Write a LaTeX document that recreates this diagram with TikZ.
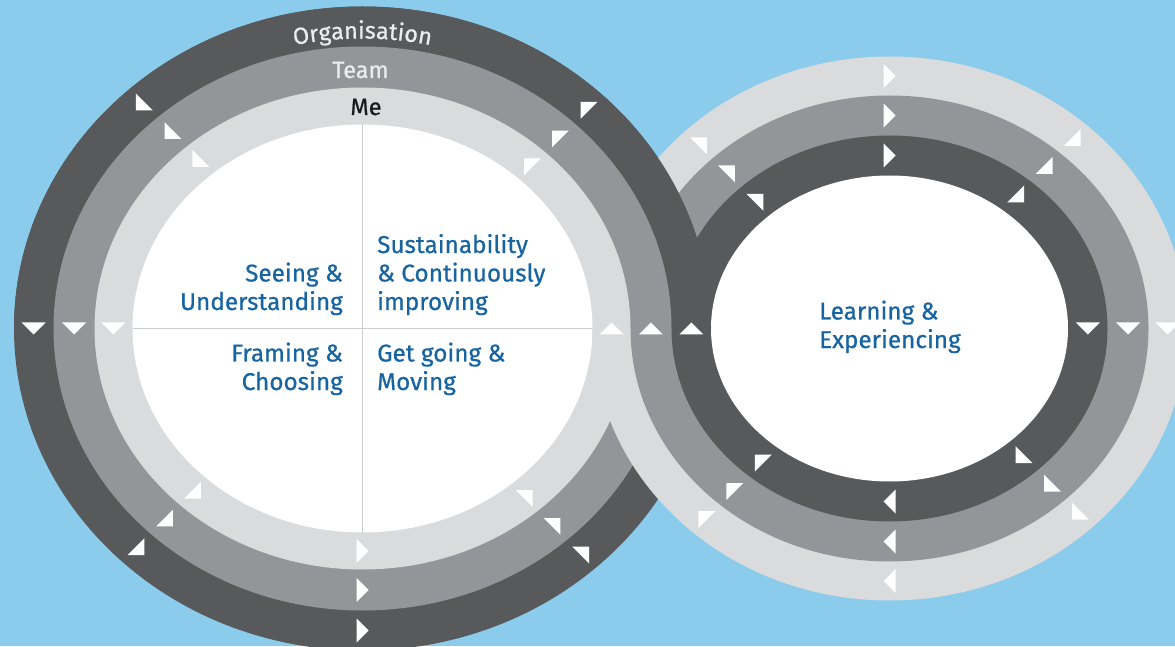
\documentclass[tikz,border=0pt]{standalone}
\usepackage{fontspec}
\setmainfont{Fira Sans}[FakeBold=0.6]
\usetikzlibrary{decorations.text}

\definecolor{sky}{RGB}{139,204,236}
\definecolor{ringdark}{RGB}{88,89,91}
\definecolor{ringmid}{RGB}{147,149,152}
\definecolor{ringlight}{RGB}{218,219,221}
\definecolor{ringtext}{RGB}{236,236,238}
\definecolor{phaseblue}{RGB}{22,100,162}
\definecolor{divider}{RGB}{205,206,208}

\tikzset{
  phase/.style={text=phaseblue, inner sep=0pt, font=\fontsize{24.3}{28.5}\selectfont},
  ringlabel/.style={font=\fontsize{23.5}{23.5}\selectfont, anchor=base},
  tri/.pic={\fill[white] (6,0) -- (-6,12) -- (-6,-12) -- cycle;}
}

% the left loop: organisation, team, me and the white middle
\newcommand\leftloop{%
  \fill[ringdark] (L) ellipse [x radius=348.5, y radius=322];
  \fill[ringmid] (L) ellipse [x radius=309, y radius=282];
  \fill[ringlight] (L) ellipse [x radius=268, y radius=241];
  \fill[white] (L) ellipse [x radius=230, y radius=204];
}

\begin{document}
\begin{tikzpicture}[x=1pt,y=1pt]

    \clip (0,0) rectangle (1175,646);
    \fill[sky] (0,0) rectangle (1175,646);

    \coordinate (L) at (362.5,317.5);
    \coordinate (R) at (889.5,317.5);

    \leftloop

    % right loop, rings the other way round
    \fill[ringlight] (R) ellipse [x radius=297, y radius=272];
    \fill[ringmid] (R) ellipse [x radius=259, y radius=233];
    \fill[ringdark] (R) ellipse [x radius=218, y radius=193];
    \fill[white] (R) ellipse [x radius=178.5, y radius=153];

    % upper crossing: left loop lies on top
    \begin{scope}
        \clip (0,317.5) rectangle (1175,646);
        \leftloop
    \end{scope}

    \draw[divider, line width=1.2] (L) ++(0,204) -- ++(0,-408);
    \draw[divider, line width=1.2] (L) ++(-230,0) -- ++(460,0);

    % arrows, left loop anticlockwise
    \foreach \a/\b in {328.75/302, 288.5/261.5, 249/222.5}
        \foreach \t in {0,45,135,180,225,270,315}
            \path (L) ++(\t:{\b/sqrt((\b/\a*cos(\t))^2+(sin(\t))^2)}) pic[rotate=\t+90] {tri};

    % arrows, right loop clockwise
    \foreach \a/\b in {278/252.5, 238.5/213, 198.25/173}
        \foreach \t in {0,45,90,135,225,270,315}
            \path (R) ++(\t:{\b/sqrt((\b/\a*cos(\t))^2+(sin(\t))^2)}) pic[rotate=\t-90] {tri};

    \path[decorate, decoration={text along path, text align=center, text color=ringtext,
        text={|\fontsize{23.5}{23.5}\selectfont|Organisation}}]
        (L) ++(122:318 and 290) arc[start angle=122, end angle=58, x radius=318, y radius=290];
    \node[ringlabel, text=ringtext] (team) at (360.5,568) {Team};
    \node[ringlabel, text=black!90] (me) at (366,531) {Me};

    \node[phase, anchor=base east, align=right] (seeing) at (343,336) {Seeing \&\\Understanding};
    \node[phase, anchor=base west, align=left] (sustain) at (377,336) {Sustainability\\\& Continuously\\improving};
    \node[phase, anchor=base east, align=right] (framing) at (343,256) {Framing \&\\Choosing};
    \node[phase, anchor=base west, align=left] (going) at (377,256) {Get going \&\\Moving};
    \node[phase, anchor=base west, align=left] (learning) at (819,298) {Learning \&\\Experiencing};

\end{tikzpicture}
\end{document}
